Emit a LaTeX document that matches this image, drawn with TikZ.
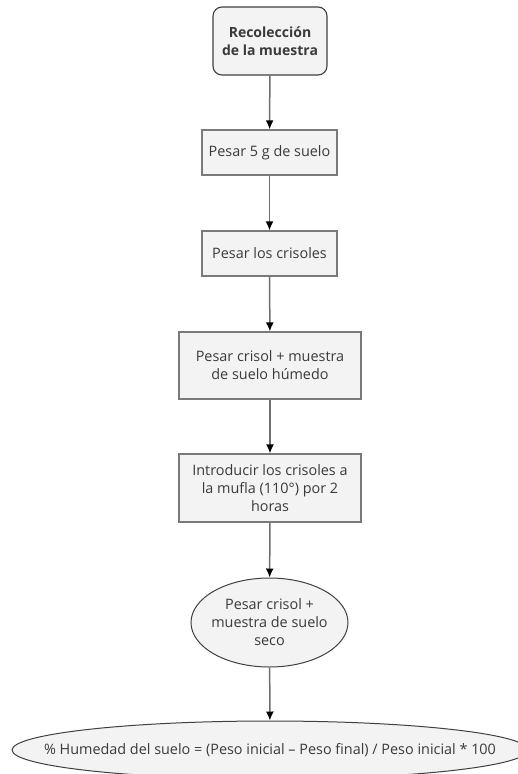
\documentclass[tikz,border=0pt]{standalone}
\usepackage{fontspec}
\setmainfont{Open Sans}
\usetikzlibrary{arrows.meta,shapes.geometric}
\definecolor{boxfill}{HTML}{F3F3F3}
\definecolor{boxline}{HTML}{7A7A7A}
\definecolor{conline}{HTML}{6E6E6E}
\definecolor{txt}{HTML}{3A3A3A}
\begin{document}
\begin{tikzpicture}[x=1pt,y=-1pt,
  every node/.style={font=\fontsize{14.4}{18}\selectfont, text=txt, align=center, inner sep=0pt},
  procbox/.style={draw=boxline, line width=1.3pt, fill=boxfill, rectangle},
  startbox/.style={draw=black!75, line width=1.1pt, fill=boxfill, rectangle, rounded corners=9pt},
  ovalbox/.style={draw=black!75, line width=1pt, fill=boxfill, ellipse},
  conn/.style={draw=conline, line width=1.5pt, -{Latex[length=9pt,width=8pt,color=black]}}
]
\useasboundingbox (0,0) rectangle (518,774);
\fill[white] (0,0) rectangle (518,774);
\clip (0,0) rectangle (518,774);
\node[startbox, minimum width=114pt, minimum height=68pt, font=\fontsize{14}{18}\selectfont\bfseries] (n1) at (270,41) {Recolección\\de la muestra};
\node[procbox, minimum width=135pt, minimum height=45pt] (n2) at (269.5,152.5) {Pesar 5 g de suelo};
\node[procbox, minimum width=135pt, minimum height=45pt] (n3) at (269.5,253.5) {Pesar los crisoles};
\node[procbox, minimum width=182pt, minimum height=67pt] (n4) at (270,365.5) {Pesar crisol + muestra\\de suelo húmedo};
\node[procbox, minimum width=182pt, minimum height=68pt] (n5) at (270,488) {Introducir los crisoles a\\la mufla (110°) por 2\\horas};
\node[ovalbox, minimum width=157pt, minimum height=89pt, inner xsep=-8pt, inner ysep=-4pt] (n6) at (269.5,622.5) {Pesar crisol +\\muestra de suelo\\seco};
\node[ovalbox, minimum width=516pt, minimum height=58pt, inner xsep=-80pt, inner ysep=-4pt] (n7) at (270,750) {\% Humedad del suelo = (Peso inicial – Peso final) / Peso inicial * 100};
\draw[conn] (n1) -- (n2);
\draw[conn] (n2) -- (n3);
\draw[conn] (n3) -- (n4);
\draw[conn] (n4) -- (n5);
\draw[conn] (n5) -- (n6);
\draw[conn] (n6) -- (n7);
\end{tikzpicture}
\end{document}
